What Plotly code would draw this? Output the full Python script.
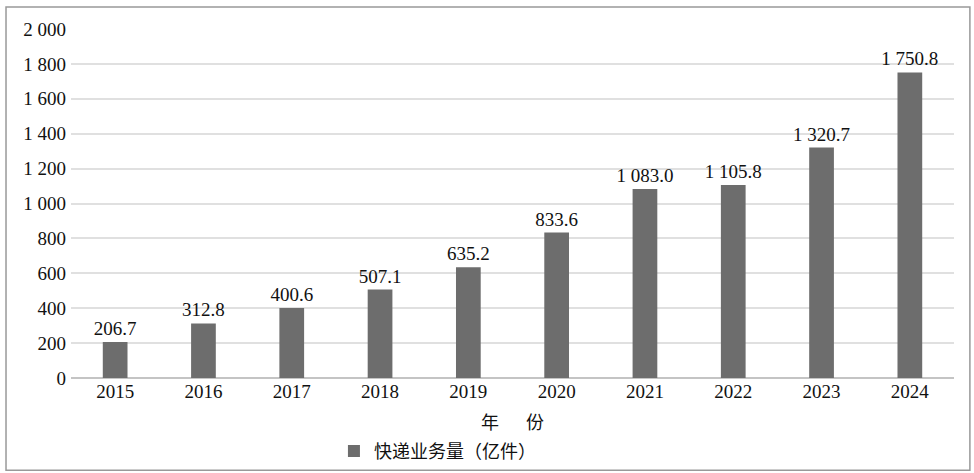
import plotly.graph_objects as go

years = ["2015", "2016", "2017", "2018", "2019", "2020", "2021", "2022", "2023", "2024"]
volume = [206.7, 312.8, 400.6, 507.1, 635.2, 833.6, 1083.0, 1105.8, 1320.7, 1750.8]
y_ticks = [0, 200, 400, 600, 800, 1000, 1200, 1400, 1600, 1800, 2000]


def fmt(v, dec=1):
    s = f"{v:,.{dec}f}"
    return s.replace(",", " ")


serif = "Liberation Serif"
cjk = "Liberation Serif, Noto Sans CJK SC"

fig = go.Figure()
fig.add_trace(go.Bar(
    x=years, y=volume,
    name="快递业务量（亿件）",
    marker=dict(color="#6d6d6d", line=dict(width=0)),
    width=0.28,
    text=[fmt(v) for v in volume],
    textposition="outside",
    constraintext="none",
    textfont=dict(family=serif, size=19, color="#111111"),
    cliponaxis=False,
))

fig.update_layout(
    width=974, height=473,
    margin=dict(l=71, r=20, t=29, b=95, autoexpand=False),
    plot_bgcolor="white", paper_bgcolor="white",
    font=dict(family=serif, size=19, color="#111111"),
    showlegend=True,
    legend=dict(orientation="h", x=0.415, xanchor="center", y=-0.21, yanchor="middle",
                bgcolor="rgba(0,0,0,0)",
                font=dict(family=cjk, size=18), itemwidth=30),
    xaxis=dict(
        title=dict(text="年      份", font=dict(family=cjk, size=18), standoff=15),
        showgrid=False, showline=False, ticks="", automargin=False,
        tickfont=dict(family=serif, size=19),
    ),
    yaxis=dict(
        range=[0, 2000], tickvals=y_ticks, ticktext=[fmt(v, 0) for v in y_ticks],
        showgrid=True, gridcolor="#e0e0e0", gridwidth=2,
        zeroline=True, zerolinecolor="#c4c4c4", zerolinewidth=2, automargin=False,
        tickfont=dict(family=serif, size=19), ticks="", ticklabelstandoff=4,
    ),
    shapes=[dict(type="rect", xref="paper", yref="paper",
                 x0=-0.0736, x1=1.018, y0=-0.264, y1=1.063,
                 line=dict(color="#999999", width=1.5), fillcolor="rgba(0,0,0,0)")],
)

# page body has a default 8px margin; drop it so the figure fills the window
fig.write_html("out.html", config={"displayModeBar": False},
               post_script="document.body.style.margin='0';")
